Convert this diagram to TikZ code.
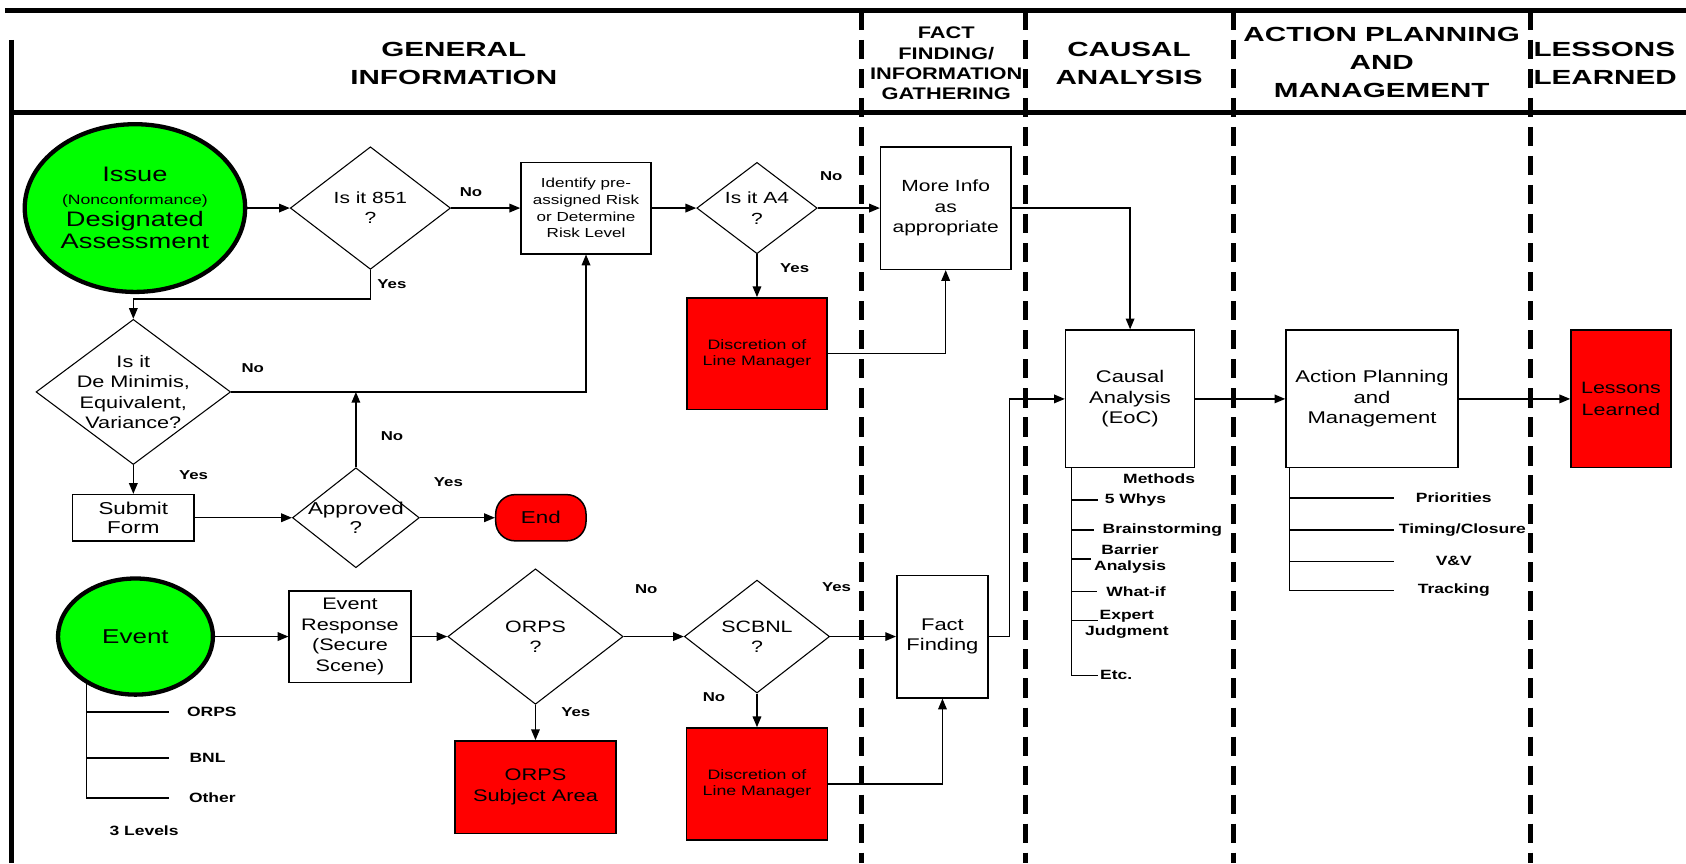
\documentclass[tikz,border=0pt]{standalone}
\usepackage{fontspec}
\setmainfont{Liberation Sans}[FakeStretch=1.3]
\newfontfamily\hdr{Liberation Sans}[FakeStretch=1.45]
\usetikzlibrary{shapes.geometric,arrows.meta}
\definecolor{ngreen}{RGB}{0,255,0}
\definecolor{nred}{RGB}{255,0,0}
\tikzset{
  conn/.style={line width=1.3pt},
  arr/.style={conn,-{Triangle[length=10pt,width=8pt]}},
  box/.style={draw,line width=1.4pt,inner sep=0pt,align=center,font=\fontsize{15.5}{19}\selectfont},
  redbox/.style={box,fill=nred},
  dia/.style={draw,diamond,line width=1pt,inner sep=0pt},
  dtext/.style={align=center,inner sep=0pt,font=\fontsize{15.3}{19}\selectfont},
  lbl/.style={inner sep=0pt,font=\bfseries\fontsize{12}{14}\selectfont},
  item/.style={inner sep=0pt,align=center,font=\bfseries\fontsize{12.5}{14.5}\selectfont},
  hd/.style={inner sep=0pt,align=center,font=\hdr\bfseries\fontsize{19}{26}\selectfont},
  thickline/.style={line width=4.5pt},
  lane/.style={line width=4.5pt,dash pattern=on 18pt off 9pt},
  startnode/.style={draw,ellipse,line width=4pt,fill=ngreen,inner sep=0pt,align=center},
}
\begin{document}
\begin{tikzpicture}[x=1pt,y=-1pt]
\useasboundingbox (0,0) rectangle (1568,803);
\fill[white] (0,0) rectangle (1568,803);

% frame
\coordinate (tl) at (5,10); \coordinate (tr) at (1568,10);
\coordinate (lt) at (11,37); \coordinate (lb) at (11,803);
\coordinate (hl) at (9,105); \coordinate (hr) at (1568,105);
\draw[thickline] (tl) -- (tr);
\draw[thickline] (lt) -- (lb);
\draw[thickline] (hl) -- (hr);
\foreach \lx in {801,954,1147,1423} \draw[lane] (\lx,10) -- (\lx,803);

% headers
\node[hd] (hGen) at (422,59) {GENERAL\\INFORMATION};
\node[inner sep=0pt,align=center,font=\bfseries\fontsize{15.6}{18.9}\selectfont] (hFact) at (880,59) {FACT\\FINDING/\\INFORMATION\\GATHERING};
\node[hd] (hCaus) at (1050,59) {CAUSAL\\ANALYSIS};
\node[hd] (hAct) at (1285,58.5) {ACTION PLANNING\\AND\\MANAGEMENT};
\node[hd,anchor=west,align=left] (hLes) at (1426,59) {LESSONS\\LEARNED};

% row 1
\node[startnode,minimum width=205pt,minimum height=156pt,font=\fontsize{19.5}{20.7}\selectfont] (issue) at (125.5,193.5)
  {Issue\\{\fontsize{12.6}{15}\selectfont (Nonconformance)}\\Designated\\Assessment};
\node[dia,minimum width=149pt,minimum height=114pt] (d851) at (344.5,193.5) {};
\node[dtext,font=\fontsize{15}{18.7}\selectfont] (d851t) at (d851) {Is it 851\\?};
\node[box,minimum width=121pt,minimum height=85pt,font=\fontsize{12.2}{15.5}\selectfont] (ident) at (545,193.5)
  {Identify pre-\\assigned Risk\\or Determine\\Risk Level};
\node[dia,minimum width=112pt,minimum height=85pt] (a4) at (704,193.5) {};
\node[dtext,font=\fontsize{15}{20}\selectfont] (a4t) at (a4) {Is it A4\\?};
\node[box,minimum width=121pt,minimum height=114pt,font=\fontsize{15}{19}\selectfont] (more) at (879.5,193.5)
  {More Info\\as\\appropriate};
\node[redbox,minimum width=130pt,minimum height=104pt,font=\fontsize{12.7}{15}\selectfont] (disc1) at (704,329)
  {Discretion of\\Line Manager};

% de minimis block
\node[dia,minimum width=181pt,minimum height=135pt] (demin) at (124,364.5) {};
\node[dtext,font=\fontsize{15.5}{19}\selectfont] (demint) at (demin) {Is it\\De Minimis,\\Equivalent,\\Variance?};
\node[box,minimum width=113pt,minimum height=43pt,font=\fontsize{16}{18}\selectfont] (submit) at (124,481.5) {Submit\\Form};
\node[dia,minimum width=118pt,minimum height=93pt] (appr) at (331,481.5) {};
\node[dtext,font=\fontsize{16}{18}\selectfont] (apprt) at (appr) {Approved\\?};
\node[draw,fill=nred,line width=1.4pt,rounded corners=18pt,minimum width=84pt,minimum height=43pt,inner sep=0pt,font=\fontsize{16}{19}\selectfont] (endn) at (503,481.5) {End};

% causal, action, lessons
\node[box,minimum width=120pt,minimum height=128pt,font=\fontsize{15.7}{19}\selectfont] (causal) at (1051,371) {Causal\\Analysis\\(EoC)};
\node[box,minimum width=160pt,minimum height=128pt,font=\fontsize{15.8}{19}\selectfont] (action) at (1276,371) {Action Planning\\and\\Management};
\node[redbox,minimum width=93pt,minimum height=128pt,font=\fontsize{15.3}{20}\selectfont] (lessons) at (1507.5,371) {Lessons\\Learned};

% row 2
\node[startnode,minimum width=144pt,minimum height=108pt,font=\fontsize{18.6}{20}\selectfont] (event) at (126,592) {Event};
\node[box,minimum width=113pt,minimum height=85pt,font=\fontsize{15.5}{19.2}\selectfont] (resp) at (325.5,592) {Event\\Response\\(Secure\\Scene)};
\node[dia,minimum width=163pt,minimum height=126pt] (orps) at (498,592) {};
\node[dtext] (orpst) at (orps) {ORPS\\?};
\node[dia,minimum width=135pt,minimum height=105pt] (scbnl) at (704,592) {};
\node[dtext] (scbnlt) at (scbnl) {SCBNL\\?};
\node[redbox,minimum width=150pt,minimum height=86pt,font=\fontsize{15.6}{19}\selectfont] (orpssub) at (498,732) {ORPS\\Subject Area};
\node[redbox,minimum width=131pt,minimum height=104pt,font=\fontsize{12.7}{14.5}\selectfont] (disc2) at (704,729) {Discretion of\\Line Manager};
\node[box,minimum width=85pt,minimum height=114pt,font=\fontsize{15.7}{19}\selectfont] (fact) at (876.5,592) {Fact\\Finding};

% connectors
\draw[arr] (issue.east) -- (d851.west);
\draw[arr] (d851.east) -- (ident.west);
\draw[arr] (ident.east) -- (a4.west);
\draw[arr] (a4.east) -- (more.west);
\draw[arr] (a4.south) -- (disc1.north);
\draw[arr] (disc1.east) -| (more.south);
\draw[arr] (more.east) -| (causal.north);
\coordinate (y851) at (344.5,278);
\draw[arr] (d851.south) -- (y851) -| (demin.north);
\draw[arr] (demin.east) -| (ident.south);
\draw[arr] (demin.south) -- (submit.north);
\draw[arr] (submit.east) -- (appr.west);
\draw[arr] (appr.east) -- (endn.west);
\draw[arr] (appr.north) -- (appr.north |- demin.east);
\draw[arr] (event.east) -- (resp.west);
\draw[arr] (resp.east) -- (orps.west);
\draw[arr] (orps.east) -- (scbnl.west);
\draw[arr] (orps.south) -- (orpssub.north);
\draw[arr] (scbnl.east) -- (fact.west);
\draw[arr] (scbnl.south) -- (disc2.north);
\draw[arr] (disc2.east) -| (fact.south);
\coordinate (fx) at (939,592);
\draw[arr] (fact.east) -- (fx) |- (causal.west);
\draw[arr] (causal.east) -- (action.west);
\draw[arr] (action.east) -- (lessons.west);

% yes / no labels
\node[lbl] (n1) at (438,179) {No};
\node[lbl] (n2) at (773,164) {No};
\node[lbl] (y2) at (739,249) {Yes};
\node[lbl] (y1) at (364.5,264) {Yes};
\node[lbl] (n3) at (235,342) {No};
\node[lbl] (y3) at (180,441.5) {Yes};
\node[lbl] (n4) at (364.5,406) {No};
\node[lbl] (y4) at (417,448) {Yes};
\node[lbl] (n5) at (601,548) {No};
\node[lbl] (y5) at (535.5,662) {Yes};
\node[lbl] (n6) at (664,648) {No};
\node[lbl] (y6) at (778,546) {Yes};

% causal methods tree
\coordinate (ct) at ([xshift=6pt]causal.south west);
\coordinate (c1) at (1021,465);
\coordinate (c2) at (1017,493);
\coordinate (c3) at (1015,520);
\coordinate (c4) at (1020,550);
\coordinate (c5) at (1021,577);
\coordinate (c6) at (1021,628);
\draw[conn] (ct) |- (c6);
\foreach \c in {c1,c2,c3,c4,c5} \draw[conn] (ct |- \c) -- (\c);
\node[item] (mMeth) at (1078,445.5) {Methods};
\node[item] (m1) at (1056,465) {5 Whys};
\node[item] (m2) at (1081,493) {Brainstorming};
\node[item] (m3) at (1051,520) {Barrier\\Analysis};
\node[item] (m4) at (1056.5,550) {What-if};
\node[item] (m5) at (1048,580.5) {Expert\\Judgment};
\node[item] (m6) at (1038,628) {Etc.};

% action tree
\coordinate (atr) at ([xshift=4pt]action.south west);
\coordinate (ap1) at (1296,463);
\coordinate (ap2) at (1296,493);
\coordinate (ap3) at (1296,522);
\coordinate (ap4) at (1296,549);
\draw[conn] (atr) |- (ap4);
\foreach \c in {ap1,ap2,ap3} \draw[conn] (atr |- \c) -- (\c);
\node[item] (t1) at (1352,463) {Priorities};
\node[item] (t2) at (1360,493) {Timing/Closure};
\node[item] (t3) at (1352,522) {V\&V};
\node[item] (t4) at (1352,549) {Tracking};

% event tree
\coordinate (e1) at (157,662);
\coordinate (e2) at (157,705);
\coordinate (e3) at (157,742);
\draw[conn] (event.224) |- (e3);
\foreach \c in {e1,e2} \draw[conn] (event.224 |- \c) -- (\c);
\node[item] (o1) at (197,662) {ORPS};
\node[item] (o2) at (193,705) {BNL};
\node[item] (o3) at (197.5,742) {Other};
\node[item] (o4) at (134,773) {3 Levels};
\end{tikzpicture}
\end{document}
